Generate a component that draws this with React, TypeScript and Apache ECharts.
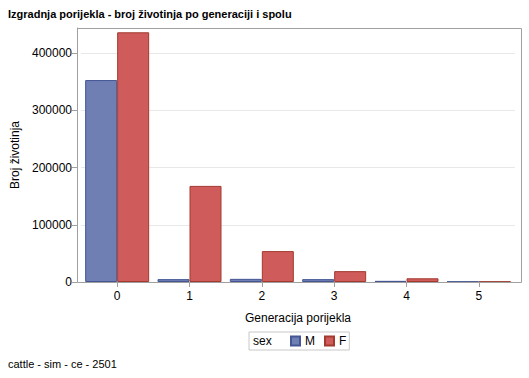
import React, { useEffect, useRef } from "react";
import * as echarts from "echarts";

const categories = ["0", "1", "2", "3", "4", "5"];
const maleValues = [353000, 5000, 5500, 5000, 2000, 800];
const femaleValues = [436500, 168000, 54000, 19000, 6500, 800];
const seriesNames = ["M", "F"];

const FONT = "'Liberation Sans', Arial, sans-serif";

export default function App() {
  const ref = useRef<HTMLDivElement>(null);
  useEffect(() => {
    if (!ref.current) return;
    const chart = echarts.init(ref.current, null, { renderer: "svg" });
    chart.setOption({
      animation: false,
      backgroundColor: "#ffffff",
      textStyle: { fontFamily: FONT },
      title: {
        text: "Izgradnja porijekla - broj životinja po generaciji i spolu",
        left: 3,
        top: 3,
        textStyle: { fontFamily: FONT, fontSize: 11, fontWeight: "bold", color: "#000" },
      },
      graphic: [
        {
          type: "rect",
          shape: { x: 77.5, y: 28.5, width: 444, height: 254 },
          style: { fill: "none", stroke: "#a0a0a0", lineWidth: 1 },
          z: 100,
          silent: true,
        },
        {
          type: "text",
          left: 253,
          top: 335,
          style: { text: "sex", fontFamily: FONT, fontSize: 12, fill: "#000" },
        },
        {
          type: "text",
          left: 8,
          top: 358,
          style: { text: "cattle - sim - ce - 2501", fontFamily: FONT, fontSize: 11, fill: "#000" },
        },
      ],
      legend: {
        left: 249,
        top: 332,
        data: seriesNames,
        itemWidth: 9,
        itemHeight: 9,
        itemGap: 9,
        padding: [3, 3, 3, 41],
        borderColor: "#c8c8c8",
        borderWidth: 1,
        icon: "rect",
        textStyle: { fontFamily: FONT, fontSize: 12, color: "#000" },
      },
      grid: { left: 81, top: 28, width: 434, height: 254, containLabel: false },
      xAxis: {
        type: "category",
        data: categories,
        name: "Generacija porijekla",
        nameLocation: "middle",
        nameGap: 30,
        nameTextStyle: { fontFamily: FONT, fontSize: 12, color: "#000" },
        axisLine: { show: true, lineStyle: { color: "#a0a0a0" } },
        axisTick: { show: true, alignWithLabel: true, length: 5, lineStyle: { color: "#a0a0a0" } },
        axisLabel: { fontFamily: FONT, fontSize: 12, color: "#000", margin: 8 },
        splitLine: { show: false },
      },
      yAxis: {
        type: "value",
        min: 0,
        max: 444000,
        interval: 100000,
        offset: 4,
        name: "Broj životinja",
        nameLocation: "middle",
        nameGap: 54,
        nameTextStyle: { fontFamily: FONT, fontSize: 12, color: "#000" },
        axisLine: { show: true, lineStyle: { color: "#a0a0a0" } },
        axisTick: { show: true, length: 5, lineStyle: { color: "#a0a0a0" } },
        axisLabel: {
          fontFamily: FONT,
          fontSize: 12,
          color: "#000",
          margin: 5,
          showMaxLabel: false,
          formatter: (v: number) => String(v),
        },
        splitLine: { show: true, lineStyle: { color: "#e8e8e8" } },
      },
      series: [
        {
          name: seriesNames[0],
          type: "bar",
          data: maleValues,
          barWidth: 32,
          barGap: "0%",
          itemStyle: { color: "#6F7EB3", borderColor: "#445694", borderWidth: 1 },
        },
        {
          name: seriesNames[1],
          type: "bar",
          data: femaleValues,
          barWidth: 32,
          barGap: "0%",
          itemStyle: { color: "#D05B5B", borderColor: "#A23A2E", borderWidth: 1 },
        },
      ],
    });
    return () => chart.dispose();
  }, []);
  return (
    <div
      ref={ref}
      style={{ position: "fixed", left: 0, top: 0, width: 529, height: 378 }}
    />
  );
}
